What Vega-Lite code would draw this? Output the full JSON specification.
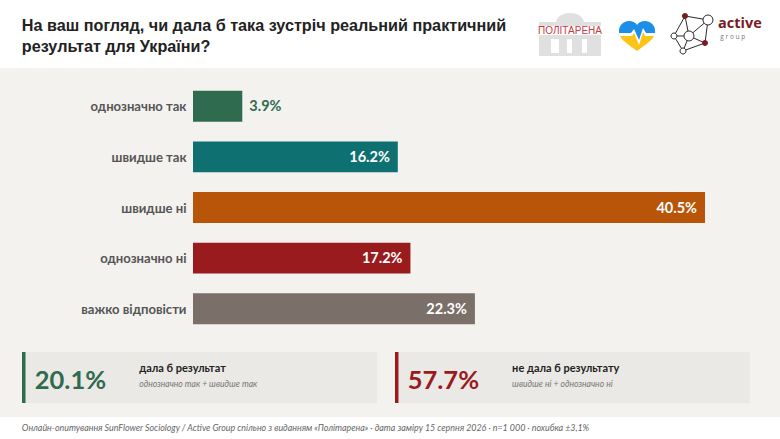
{
  "$schema": "https://vega.github.io/schema/vega-lite/v6.json",
  "background": "#f4f2ef",
  "padding": 0,
  "spacing": 0,
  "config": {"font": "Lato", "view": {"stroke": null}},
  "resolve": {"scale": {"color": "independent"}},
  "vconcat": [
    {
      "width": 780,
      "height": 68,
      "view": {"fill": "#ffffff"},
      "data": {"values": [{"title": "На ваш погляд, чи дала б така зустріч реальний практичний\nрезультат для України?"}]},
      "encoding": {
        "x": {"datum": 0.5, "type": "quantitative", "scale": {"domain": [0, 1]}, "axis": null},
        "y": {"datum": 0.5, "type": "quantitative", "scale": {"domain": [0, 1]}, "axis": null}
      },
      "layer": [
        {
          "mark": {"type": "text", "font": "Liberation Sans", "fontWeight": "bold", "fontSize": 16.2, "align": "left", "baseline": "middle", "lineBreak": "\n", "lineHeight": 21, "color": "#222222"},
          "encoding": {
            "x": {"datum": 0.028, "type": "quantitative"},
            "y": {"datum": 0.615, "type": "quantitative"},
            "text": {"field": "title"}
          }
        },
        {
          "mark": {"type": "point", "filled": true, "opacity": 1, "size": 4, "color": "#e0e0e0", "strokeWidth": 0,
            "shape": "M-14,-12 C-12,-24 12,-24 14,-12 Z M-31,-12 L31,-12 L31,-8 L-31,-8 Z M-31,1 L31,1 L31,5 L-31,5 Z M-31,5 L-19,5 L-19,19 L-31,19 Z M-11,5 L-3,5 L-3,19 L-11,19 Z M2,5 L12,5 L12,19 L2,19 Z M17,5 L31,5 L31,19 L17,19 Z M-31,19 L31,19 L31,22 L-31,22 Z"},
          "encoding": {
            "x": {"datum": 0.7308, "type": "quantitative"},
            "y": {"datum": 0.5, "type": "quantitative"}
          }
        },
        {
          "mark": {"type": "text", "text": "ПОЛІТАРЕНА", "font": "Liberation Sans", "fontSize": 10, "align": "center", "baseline": "middle", "color": "#c23b45"},
          "encoding": {
            "x": {"datum": 0.7308, "type": "quantitative"},
            "y": {"datum": 0.55, "type": "quantitative"}
          }
        },
        {
          "mark": {"type": "point", "filled": true, "opacity": 1, "size": 4, "color": "#1e8fe6", "strokeWidth": 0,
            "shape": "M-18,-3 C-19,-11 -13,-15 -8,-15 C-4,-15 -1,-13 0,-11 C1,-13 4,-15 8,-15 C13,-15 19,-11 18,-3 L9,-3 L6,-8 L2,4 L-3,-7 L-6,-3 Z"},
          "encoding": {
            "x": {"datum": 0.8167, "type": "quantitative"},
            "y": {"datum": 0.47, "type": "quantitative"}
          }
        },
        {
          "mark": {"type": "point", "filled": true, "opacity": 1, "size": 4, "color": "#fcc419", "strokeWidth": 0,
            "shape": "M-17,0 L-5,0 L-3,-3 L2,9 L6,-4 L8,0 L17,0 C14,6 6,10 0,15 C-6,10 -14,6 -17,0 Z"},
          "encoding": {
            "x": {"datum": 0.8167, "type": "quantitative"},
            "y": {"datum": 0.47, "type": "quantitative"}
          }
        },
        {
          "mark": {"type": "point", "filled": false, "opacity": 1, "size": 4, "color": "#2b2b2b", "strokeWidth": 1,
            "shape": "M-5,-17 L18,-13 L-1,3 L-5,-17 L-16,3 L-1,3 L-7,18 L-16,3 M18,-13 L15,10 L-7,18 M-1,3 L15,10"},
          "encoding": {
            "x": {"datum": 0.8846, "type": "quantitative"},
            "y": {"datum": 0.515, "type": "quantitative"}
          }
        },
        {
          "mark": {"type": "point", "filled": true, "opacity": 1, "size": 4, "fill": "#ffffff", "stroke": "#2b2b2b", "strokeWidth": 1,
            "shape": "M13,-13 a5,5 0 1,0 10,0 a5,5 0 1,0 -10,0 Z M-6,3 a5,5 0 1,0 10,0 a5,5 0 1,0 -10,0 Z M-19,3 a3,3 0 1,0 6,0 a3,3 0 1,0 -6,0 Z M-10,18 a3,3 0 1,0 6,0 a3,3 0 1,0 -6,0 Z"},
          "encoding": {
            "x": {"datum": 0.8846, "type": "quantitative"},
            "y": {"datum": 0.515, "type": "quantitative"}
          }
        },
        {
          "mark": {"type": "point", "filled": true, "opacity": 1, "size": 4, "color": "#7a1a24", "strokeWidth": 0,
            "shape": "M-8,-17 a3,3 0 1,0 6,0 a3,3 0 1,0 -6,0 Z M12,10 a3,3 0 1,0 6,0 a3,3 0 1,0 -6,0 Z"},
          "encoding": {
            "x": {"datum": 0.8846, "type": "quantitative"},
            "y": {"datum": 0.515, "type": "quantitative"}
          }
        },
        {
          "mark": {"type": "text", "text": "active", "font": "Open Sans", "fontWeight": "bold", "fontSize": 14.5, "align": "left", "baseline": "middle", "color": "#7a1a24"},
          "encoding": {
            "x": {"datum": 0.9205, "type": "quantitative"},
            "y": {"datum": 0.65, "type": "quantitative"}
          }
        },
        {
          "mark": {"type": "text", "text": "g    r    o    u    p", "font": "Open Sans", "fontSize": 6.5, "align": "left", "baseline": "middle", "color": "#777777"},
          "encoding": {
            "x": {"datum": 0.9235, "type": "quantitative"},
            "y": {"datum": 0.46, "type": "quantitative"}
          }
        }
      ]
    },
    {
      "width": 780,
      "height": 273,
      "data": {
        "values": [
          {"answer": "однозначно так", "share": 0.039},
          {"answer": "швидше так", "share": 0.162},
          {"answer": "швидше ні", "share": 0.405},
          {"answer": "однозначно ні", "share": 0.172},
          {"answer": "важко відповісти", "share": 0.223}
        ]
      },
      "encoding": {
        "y": {
          "field": "answer",
          "type": "nominal",
          "sort": null,
          "title": null,
          "scale": {"type": "band", "range": [13, 266], "paddingInner": 0.39, "paddingOuter": 0.195},
          "axis": {"offset": -193, "domain": false, "ticks": false, "labelPadding": 7, "labelOffset": 1, "labelFont": "Lato", "labelFontSize": 13.1, "labelFontWeight": "bold", "labelColor": "#555555", "labelLimit": 180}
        },
        "x": {"field": "share", "type": "quantitative", "scale": {"domain": [0, 0.405], "range": [193, 705]}, "axis": null}
      },
      "layer": [
        {
          "mark": {"type": "bar"},
          "encoding": {
            "color": {
              "field": "answer",
              "type": "nominal",
              "legend": null,
              "scale": {
                "domain": ["однозначно так", "швидше так", "швидше ні", "однозначно ні", "важко відповісти"],
                "range": ["#2f6b4f", "#0e7070", "#b85508", "#991b1e", "#7a6f69"]
              }
            }
          }
        },
        {
          "transform": [{"filter": "datum.share < 0.1"}],
          "mark": {"type": "text", "align": "left", "dx": 7, "dy": 1, "fontSize": 14.5, "fontWeight": "bold", "color": "#2f6b4f"},
          "encoding": {"text": {"field": "share", "type": "quantitative", "format": ".1%"}}
        },
        {
          "transform": [{"filter": "datum.share >= 0.1"}],
          "mark": {"type": "text", "align": "right", "dx": -8, "dy": 1, "fontSize": 14.5, "fontWeight": "bold", "color": "#ffffff"},
          "encoding": {"text": {"field": "share", "type": "quantitative", "format": ".1%"}}
        }
      ]
    },
    {
      "width": 780,
      "height": 76,
      "data": {
        "values": [
          {"group": "дала б результат", "share": 0.201, "note": "однозначно так + швидше так"},
          {"group": "не дала б результату", "share": 0.577, "note": "швидше ні + однозначно ні"}
        ]
      },
      "encoding": {
        "color": {"field": "group", "type": "nominal", "legend": null, "scale": {"domain": ["дала б результат", "не дала б результату"], "range": ["#2f6b4f", "#991b1e"]}}
      },
      "layer": [
        {
          "mark": {"type": "bar", "color": "#ebe9e6"},
          "encoding": {
            "color": {"value": "#ebe9e6"},
            "x": {"field": "group", "type": "nominal", "sort": null, "axis": null, "title": null, "scale": {"type": "band", "range": [22, 750], "paddingInner": 0.048, "paddingOuter": 0}},
            "y": {"datum": 0, "type": "quantitative", "axis": null, "scale": {"domain": [0, 1], "range": [62, 11]}},
            "y2": {"datum": 1}
          }
        },
        {
          "mark": {"type": "rule", "strokeWidth": 3.5},
          "encoding": {
            "x": {"field": "group", "type": "nominal", "sort": null, "bandPosition": 0.005, "scale": {"type": "band"}},
            "y": {"datum": 0, "type": "quantitative"},
            "y2": {"datum": 1}
          }
        },
        {
          "mark": {"type": "text", "align": "left", "baseline": "middle", "fontSize": 25.5, "fontWeight": "bold"},
          "encoding": {
            "x": {"field": "group", "type": "nominal", "sort": null, "bandPosition": 0.036, "scale": {"type": "band"}},
            "y": {"datum": 0.44, "type": "quantitative"},
            "text": {"field": "share", "type": "quantitative", "format": ".1%"}
          }
        },
        {
          "mark": {"type": "text", "align": "left", "baseline": "middle", "fontSize": 11, "fontWeight": "bold", "color": "#222222"},
          "encoding": {
            "color": {"value": "#222222"},
            "x": {"field": "group", "type": "nominal", "sort": null, "bandPosition": 0.33, "scale": {"type": "band"}},
            "y": {"datum": 0.66, "type": "quantitative"},
            "text": {"field": "group"}
          }
        },
        {
          "mark": {"type": "text", "align": "left", "baseline": "middle", "fontSize": 8.6, "fontStyle": "italic"},
          "encoding": {
            "color": {"value": "#777777"},
            "x": {"field": "group", "type": "nominal", "sort": null, "bandPosition": 0.33, "scale": {"type": "band"}},
            "y": {"datum": 0.38, "type": "quantitative"},
            "text": {"field": "note"}
          }
        }
      ]
    },
    {
      "width": 780,
      "height": 22,
      "view": {"fill": "#ffffff"},
      "data": {"values": [{"source": "Онлайн-опитування SunFlower Sociology / Active Group спільно з виданням «Політарена» · дата заміру 15 серпня 2026 · n=1 000 · похибка ±3,1%"}]},
      "mark": {"type": "text", "align": "left", "baseline": "middle", "fontSize": 8.9, "fontStyle": "italic", "color": "#666666"},
      "encoding": {
        "x": {"datum": 0.028, "type": "quantitative", "scale": {"domain": [0, 1]}, "axis": null},
        "y": {"datum": 0.5, "type": "quantitative", "scale": {"domain": [0, 1]}, "axis": null},
        "text": {"field": "source"}
      }
    }
  ]
}
